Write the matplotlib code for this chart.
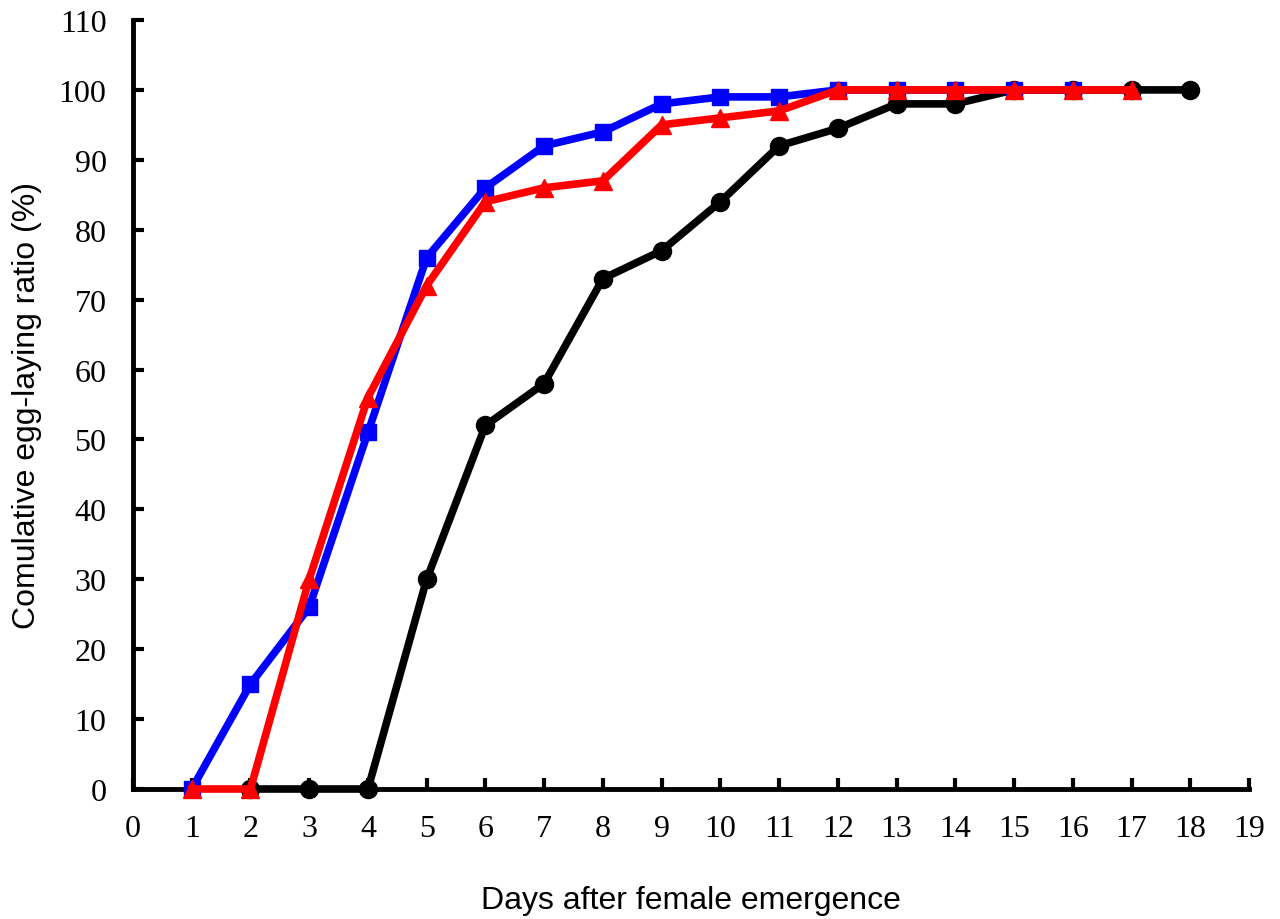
import matplotlib
matplotlib.use("Agg")
import matplotlib.pyplot as plt

days_black = [2, 3, 4, 5, 6, 7, 8, 9, 10, 11, 12, 13, 14, 15, 16, 17, 18]
ratio_black = [0, 0, 0, 30, 52, 58, 73, 77, 84, 92, 94.5, 98, 98, 100, 100, 100, 100]

days_blue = [1, 2, 3, 4, 5, 6, 7, 8, 9, 10, 11, 12, 13, 14, 15, 16]
ratio_blue = [0, 15, 26, 51, 76, 86, 92, 94, 98, 99, 99, 100, 100, 100, 100, 100]

days_red = [1, 2, 3, 4, 5, 6, 7, 8, 9, 10, 11, 12, 13, 14, 15, 16, 17]
ratio_red = [0, 0, 30, 56, 72, 84, 86, 87, 95, 96, 97, 100, 100, 100, 100, 100, 100]

xticks = list(range(0, 20))
yticks = list(range(0, 111, 10))

fig = plt.figure(figsize=(12.8, 9.2), dpi=100)
ax = fig.add_axes([133/1280, 130/920, (1249-133)/1280, (790-21)/920])

ax.plot(days_black, ratio_black, color='black', lw=5.5, marker='o', ms=13, zorder=3, clip_on=False)
ax.plot(days_blue, ratio_blue, color='#0000ff', lw=5.5, marker='s', ms=12, zorder=4, clip_on=False)
ax.plot(days_red, ratio_red, color='#ff0000', lw=5.5, marker='^', ms=13, zorder=5, clip_on=False)

ax.set_xlim(0, 19)
ax.set_ylim(0, 110)
ax.set_xticks(xticks)
ax.set_yticks(yticks)
ax.spines['top'].set_visible(False)
ax.spines['right'].set_visible(False)
for s in ['left', 'bottom']:
    ax.spines[s].set_linewidth(3.5)
ax.tick_params(axis='both', direction='in', length=8, width=3, labelsize=23)
ax.tick_params(axis='x', pad=18)
ax.tick_params(axis='y', pad=19)
for lab in ax.get_xticklabels() + ax.get_yticklabels():
    lab.set_fontfamily('Liberation Serif')

ax.set_xlabel('Days after female emergence', fontsize=23, family='Liberation Sans', labelpad=30)
ax.set_ylabel('Comulative egg-laying ratio (%)', fontsize=23, family='Liberation Sans', labelpad=12)

fig.savefig('out.png', dpi=100)
